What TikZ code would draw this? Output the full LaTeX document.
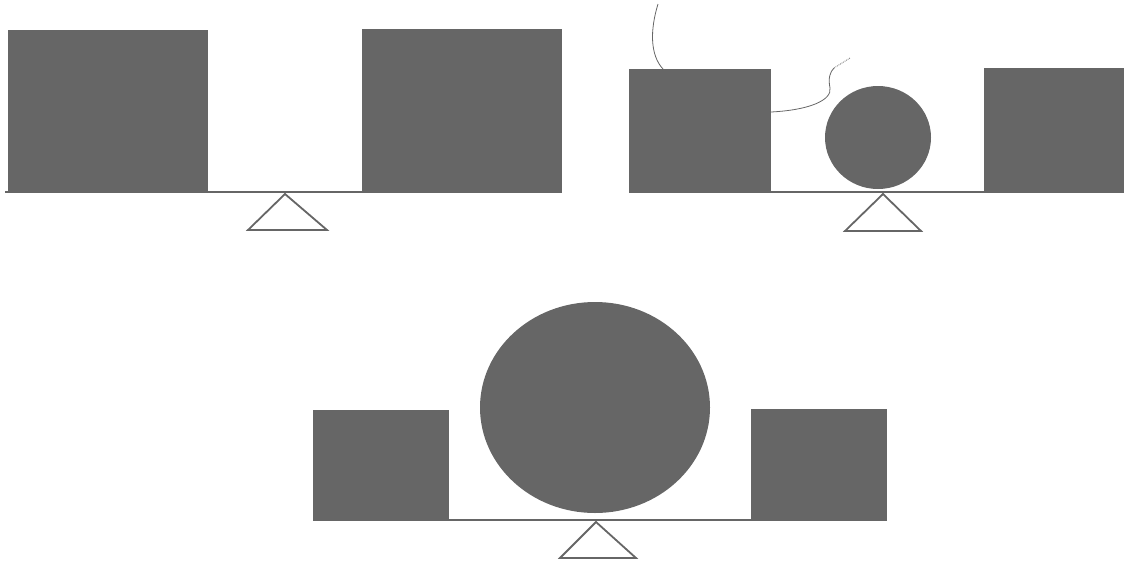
\documentclass[tikz,border=0pt]{standalone}
\begin{document}
\begin{tikzpicture}[x=1pt,y=-1pt,
  weight/.style={fill=black!60, draw=none},
  beam/.style={draw=black!60, line width=2.2pt},
  pivot/.style={draw=black!60, line width=1.8pt, line join=miter},
  wire/.style={draw=black!60, line width=0.8pt}]
  \useasboundingbox (0,0) rectangle (1125,568);
  % Scale 1
  \draw[beam] (5,192) -- (562,192);
  \fill[weight] (8,30) rectangle (208,193);
  \fill[weight] (362,29) rectangle (562,193);
  \draw[pivot] (285,194) -- (327,230) -- (248,230) -- cycle;
  % Scale 2
  \draw[beam] (629,192) -- (1124,192);
  \fill[weight] (629,69) rectangle (771,193);
  \fill[weight] (878,137.5) ellipse (53 and 51.5);
  \fill[weight] (984,68) rectangle (1124,193);
  \draw[pivot] (883,194) -- (921,231) -- (845,231) -- cycle;
  \draw[wire] (658,4) .. controls (650,30) and (650,55) .. (663,69);
  \draw[wire] (771,112) .. controls (810,110) and (832,100) .. (830,88)
    .. controls (828,78) and (830,72) .. (834,68);
  \draw[wire, densely dotted] (834,68) -- (850,58);
  % Scale 3
  \draw[beam] (313,520) -- (887,520);
  \fill[weight] (313,410) rectangle (449,521);
  \fill[weight] (595,407.5) ellipse (115 and 105.5);
  \fill[weight] (751,409) rectangle (887,521);
  \draw[pivot] (596,522) -- (636,558) -- (560,558) -- cycle;
\end{tikzpicture}
\end{document}
